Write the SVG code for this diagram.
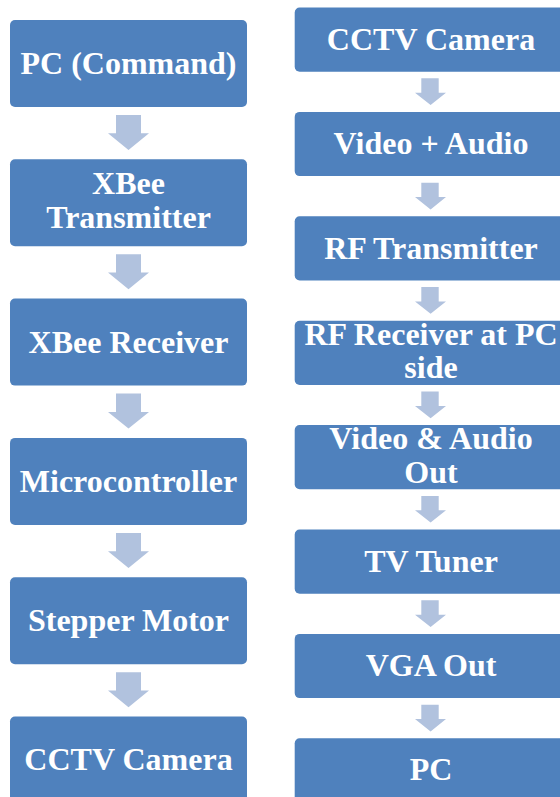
<svg xmlns="http://www.w3.org/2000/svg" width="560" height="797" viewBox="0 0 560 797">
<style>
.box{fill:#4F81BD;}
.arr{fill:#B1C2DE;}
.t{fill:#FFFFFF;font-family:"Liberation Serif","Times New Roman",serif;font-weight:bold;font-size:32px;text-anchor:middle;}
</style>
<rect width="560" height="797" fill="#FFFFFF"/>
<g id="connectors">
<polygon class="arr" points="116,115 141,115 141,133.3 149,133.3 128.5,150 108,133.3 116,133.3"/>
<polygon class="arr" points="116,254.3 141,254.3 141,272.6 149,272.6 128.5,289.3 108,272.6 116,272.6"/>
<polygon class="arr" points="116,393.6 141,393.6 141,411.9 149,411.9 128.5,428.6 108,411.9 116,411.9"/>
<polygon class="arr" points="116,532.9 141,532.9 141,551.2 149,551.2 128.5,567.9 108,551.2 116,551.2"/>
<polygon class="arr" points="116,672.2 141,672.2 141,690.5 149,690.5 128.5,707.2 108,690.5 116,690.5"/>
<polygon class="arr" points="421.3,78.3 438.7,78.3 438.7,92.7 446,92.7 430.6,105 415,92.7 421.3,92.7"/>
<polygon class="arr" points="421.3,182.7 438.7,182.7 438.7,197.1 446,197.1 430.6,209.4 415,197.1 421.3,197.1"/>
<polygon class="arr" points="421.3,287.1 438.7,287.1 438.7,301.5 446,301.5 430.6,313.8 415,301.5 421.3,301.5"/>
<polygon class="arr" points="421.3,391.5 438.7,391.5 438.7,405.9 446,405.9 430.6,418.2 415,405.9 421.3,405.9"/>
<polygon class="arr" points="421.3,495.9 438.7,495.9 438.7,510.3 446,510.3 430.6,522.6 415,510.3 421.3,510.3"/>
<polygon class="arr" points="421.3,600.3 438.7,600.3 438.7,614.7 446,614.7 430.6,627 415,614.7 421.3,614.7"/>
<polygon class="arr" points="421.3,704.7 438.7,704.7 438.7,719.1 446,719.1 430.6,731.4 415,719.1 421.3,719.1"/>
</g>
<g id="L1"><rect class="box" x="10" y="20" width="237" height="87" rx="5"/><text class="t" x="128.5" y="74">PC (Command)</text></g>
<g id="L2"><rect class="box" x="10" y="159.3" width="237" height="87" rx="5"/><text class="t" x="128.5" y="194">XBee</text><text class="t" x="128.5" y="228">Transmitter</text></g>
<g id="L3"><rect class="box" x="10" y="298.6" width="237" height="87" rx="5"/><text class="t" x="128.5" y="352.5">XBee Receiver</text></g>
<g id="L4"><rect class="box" x="10" y="437.9" width="237" height="87" rx="5"/><text class="t" x="128.5" y="491.8">Microcontroller</text></g>
<g id="L5"><rect class="box" x="10" y="577.2" width="237" height="87" rx="5"/><text class="t" x="128.5" y="631.1">Stepper Motor</text></g>
<g id="L6"><rect class="box" x="10" y="716.5" width="237" height="87" rx="5"/><text class="t" x="128.5" y="769.5">CCTV Camera</text></g>
<g id="R1"><rect class="box" x="294.7" y="7.5" width="272" height="64.2" rx="5"/><text class="t" x="431" y="50">CCTV Camera</text></g>
<g id="R2"><rect class="box" x="294.7" y="111.9" width="272" height="64.2" rx="5"/><text class="t" x="431" y="154.2">Video + Audio</text></g>
<g id="R3"><rect class="box" x="294.7" y="216.3" width="272" height="64.2" rx="5"/><text class="t" x="431" y="258.6">RF Transmitter</text></g>
<g id="R4"><rect class="box" x="294.7" y="320.7" width="272" height="64.2" rx="5"/><text class="t" x="431" y="345">RF Receiver at PC</text><text class="t" x="431" y="378.4">side</text></g>
<g id="R5"><rect class="box" x="294.7" y="425.1" width="272" height="64.2" rx="5"/><text class="t" x="431" y="448.5">Video &amp; Audio</text><text class="t" x="431" y="482.5">Out</text></g>
<g id="R6"><rect class="box" x="294.7" y="529.5" width="272" height="64.2" rx="5"/><text class="t" x="431" y="571.8">TV Tuner</text></g>
<g id="R7"><rect class="box" x="294.7" y="633.9" width="272" height="64.2" rx="5"/><text class="t" x="431" y="676.2">VGA Out</text></g>
<g id="R8"><rect class="box" x="294.7" y="738.3" width="272" height="64.2" rx="5"/><text class="t" x="431" y="780">PC</text></g>
</svg>
